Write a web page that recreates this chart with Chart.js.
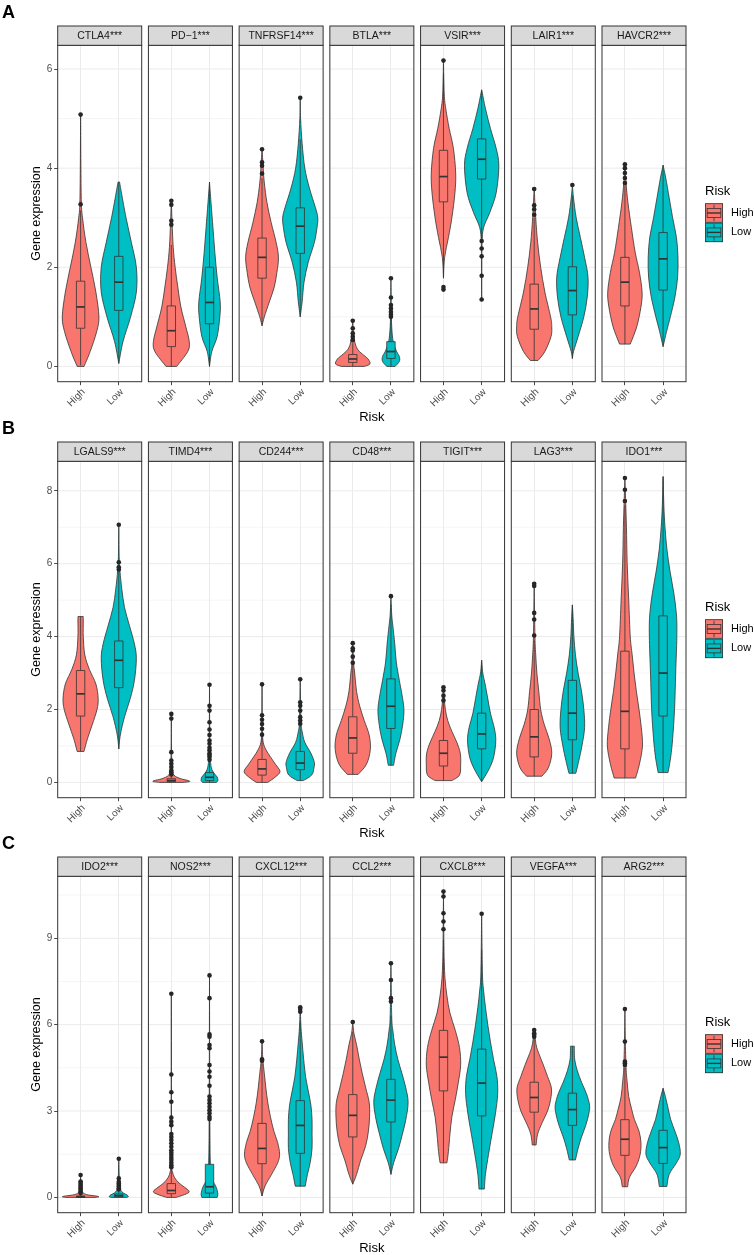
<!DOCTYPE html>
<html>
<head>
<meta charset="utf-8">
<script src="https://cdn.jsdelivr.net/npm/chart.js@4.4.1/dist/chart.umd.min.js"></script>
<style>
  html, body { margin: 0; padding: 0; background: #fff; }
  #page { position: relative; width: 754px; height: 1255px; overflow: hidden; }
  .panel { position: absolute; left: 0; width: 754px; height: 440px; }
</style>
</head>
<body>
<div id="page">
  <div class="panel" style="top:0px"><canvas id="chartA"></canvas></div>
  <div class="panel" style="top:415.7px"><canvas id="chartB"></canvas></div>
  <div class="panel" style="top:831.4px"><canvas id="chartC"></canvas></div>
</div>
<script>
// ---- data ----
const groups = ["High", "Low"];
const groupColors = ["#F8766D", "#00BFC4"];

// box stats: [lower whisker, q1, median, q3, upper whisker]
// violin profiles: [value, half width in category units]

// Panel A
const genesA = ["CTLA4***", "PD\u22121***", "TNFRSF14***", "BTLA***", "VSIR***", "LAIR1***", "HAVCR2***"];
const ticksA = [0, 2, 4, 6];
const boxHighA = [
  [0.02, 0.77, 1.2, 1.72, 3.15],
  [0, 0.40, 0.72, 1.22, 2.45],
  [0.82, 1.78, 2.2, 2.59, 3.8],
  [0, 0.08, 0.15, 0.24, 0.47],
  [1.78, 3.32, 3.83, 4.36, 5.9],
  [0.12, 0.75, 1.16, 1.66, 3.0],
  [0.45, 1.22, 1.7, 2.2, 3.65]
];
const boxLowA = [
  [0.06, 1.13, 1.70, 2.22, 3.72],
  [0, 0.86, 1.29, 2.0, 3.72],
  [1.0, 2.28, 2.83, 3.2, 4.58],
  [0, 0.16, 0.3, 0.5, 0.98],
  [2.57, 3.78, 4.18, 4.59, 5.58],
  [0.16, 1.04, 1.53, 2.01, 3.45],
  [0.4, 1.54, 2.17, 2.7, 4.06]
];
const outHighA = [
  [3.27, 5.08],
  [2.86, 2.94, 3.26, 3.34],
  [3.89, 4.05, 4.12, 4.38],
  [0.53, 0.6, 0.67, 0.77, 0.92],
  [1.55, 1.6, 6.17],
  [3.06, 3.17, 3.25, 3.58],
  [3.7, 3.8, 3.9, 4.0, 4.08]
];
const outLowA = [
  [],
  [],
  [5.42],
  [1.0, 1.04, 1.1, 1.17, 1.24, 1.39, 1.78],
  [1.35, 1.83, 2.22, 2.38, 2.53],
  [3.66],
  []
];
const violinHighA = [
  [[0, 0.09], [0.3, 0.25], [0.7, 0.42], [1.0, 0.48], [1.5, 0.40], [2.0, 0.27], [2.5, 0.14], [3.0, 0.05], [3.3, 0.02], [4.0, 0.008], [5.08, 0]],
  [[0, 0.14], [0.3, 0.43], [0.5, 0.47], [0.8, 0.38], [1.2, 0.25], [1.6, 0.17], [2.0, 0.10], [2.4, 0.05], [2.9, 0.02], [3.35, 0]],
  [[0.82, 0], [1.0, 0.06], [1.3, 0.19], [1.6, 0.32], [1.9, 0.39], [2.2, 0.43], [2.5, 0.37], [2.9, 0.24], [3.3, 0.13], [3.7, 0.06], [4.0, 0.03], [4.4, 0]],
  [[0, 0.3], [0.05, 0.45], [0.15, 0.4], [0.25, 0.25], [0.35, 0.12], [0.5, 0.05], [0.7, 0.02], [0.93, 0]],
  [[1.78, 0], [2.2, 0.03], [2.6, 0.13], [3.0, 0.22], [3.5, 0.30], [3.9, 0.32], [4.4, 0.26], [4.8, 0.15], [5.2, 0.06], [5.5, 0.02], [6.17, 0]],
  [[0.12, 0.1], [0.3, 0.28], [0.6, 0.44], [0.8, 0.46], [1.0, 0.43], [1.5, 0.28], [2.0, 0.17], [2.5, 0.09], [3.0, 0.04], [3.6, 0]],
  [[0.45, 0.14], [0.8, 0.31], [1.2, 0.42], [1.5, 0.45], [1.9, 0.38], [2.3, 0.27], [2.8, 0.17], [3.3, 0.08], [3.7, 0.03], [4.08, 0]]
];
const violinLowA = [
  [[0.06, 0], [0.5, 0.11], [1.0, 0.31], [1.5, 0.46], [2.0, 0.46], [2.5, 0.33], [3.0, 0.19], [3.5, 0.07], [3.72, 0.02]],
  [[0, 0], [0.3, 0.06], [0.6, 0.2], [1.0, 0.27], [1.3, 0.28], [1.8, 0.2], [2.3, 0.14], [2.8, 0.09], [3.3, 0.04], [3.72, 0]],
  [[1.0, 0], [1.3, 0.05], [1.7, 0.1], [2.1, 0.21], [2.5, 0.37], [2.8, 0.44], [3.0, 0.46], [3.2, 0.4], [3.6, 0.24], [4.0, 0.12], [4.5, 0.05], [5.0, 0.01], [5.42, 0]],
  [[0, 0.11], [0.1, 0.22], [0.2, 0.22], [0.3, 0.15], [0.5, 0.06], [0.8, 0.02], [1.2, 0.008], [1.78, 0]],
  [[1.35, 0], [2.0, 0.005], [2.5, 0.01], [2.8, 0.05], [3.1, 0.21], [3.5, 0.38], [4.05, 0.45], [4.4, 0.38], [4.8, 0.23], [5.2, 0.1], [5.58, 0]],
  [[0.16, 0], [0.3, 0.03], [0.6, 0.15], [1.0, 0.3], [1.4, 0.39], [1.8, 0.41], [2.2, 0.32], [2.6, 0.21], [3.0, 0.1], [3.4, 0.03], [3.66, 0]],
  [[0.4, 0], [0.7, 0.09], [1.0, 0.19], [1.4, 0.31], [1.8, 0.38], [2.2, 0.39], [2.6, 0.35], [3.0, 0.25], [3.4, 0.16], [3.8, 0.07], [4.06, 0]]
];

// Panel B
const genesB = ["LGALS9***", "TIMD4***", "CD244***", "CD48***", "TIGIT***", "LAG3***", "IDO1***"];
const ticksB = [0, 2, 4, 6, 8];
const boxHighB = [
  [0.85, 1.82, 2.43, 3.07, 4.55],
  [0, 0.02, 0.05, 0.1, 0.2],
  [0, 0.2, 0.37, 0.63, 1.25],
  [0.22, 0.8, 1.22, 1.8, 3.25],
  [0.05, 0.45, 0.8, 1.15, 2.2],
  [0.17, 0.7, 1.25, 2.0, 3.9],
  [0.12, 0.92, 1.95, 3.6, 7.6]
];
const boxLowB = [
  [0.92, 2.6, 3.35, 3.88, 5.8],
  [0, 0.05, 0.14, 0.27, 0.6],
  [0.05, 0.35, 0.53, 0.85, 1.6],
  [0.47, 1.48, 2.09, 2.84, 4.88],
  [0.02, 0.92, 1.33, 1.9, 3.35],
  [0.25, 1.17, 1.9, 2.8, 4.87],
  [0.27, 1.82, 3.0, 4.57, 8.39]
];
const outHighB = [
  [],
  [0.22, 0.28, 0.33, 0.42, 0.51, 0.6, 0.83, 1.75, 1.88],
  [1.31, 1.47, 1.6, 1.72, 1.84, 2.69],
  [3.28, 3.45, 3.62, 3.68, 3.82],
  [2.25, 2.38, 2.52, 2.61],
  [4.03, 4.47, 4.65, 5.39, 5.45],
  [7.72, 8.03, 8.35]
];
const outLowB = [
  [5.84, 5.9, 6.04, 7.07],
  [0.62, 0.7, 0.75, 0.8, 0.88, 0.95, 1.06, 1.15, 1.3, 1.45, 1.65, 1.97, 2.1, 2.68],
  [1.61, 1.7, 1.79, 1.97, 2.1, 2.2, 2.83],
  [5.11],
  [],
  [],
  []
];
const violinHighB = [
  [[0.85, 0.09], [1.2, 0.18], [1.6, 0.31], [2.0, 0.43], [2.3, 0.46], [2.7, 0.4], [3.1, 0.23], [3.5, 0.11], [4.0, 0.07], [4.4, 0.07], [4.55, 0.07]],
  [[0, 0.3], [0.02, 0.47], [0.05, 0.45], [0.1, 0.25], [0.2, 0.07], [0.4, 0.02], [1.0, 0.005], [1.88, 0]],
  [[0, 0.15], [0.15, 0.35], [0.3, 0.47], [0.5, 0.35], [0.7, 0.22], [0.9, 0.1], [1.1, 0.03], [1.4, 0.01], [2.0, 0.004], [2.69, 0]],
  [[0.22, 0.14], [0.5, 0.36], [0.9, 0.46], [1.3, 0.43], [1.7, 0.3], [2.1, 0.18], [2.5, 0.1], [3.0, 0.05], [3.3, 0.02], [3.82, 0]],
  [[0.05, 0.22], [0.2, 0.42], [0.5, 0.45], [0.8, 0.44], [1.1, 0.35], [1.4, 0.22], [1.7, 0.11], [2.0, 0.05], [2.3, 0.02], [2.61, 0]],
  [[0.17, 0.2], [0.4, 0.37], [0.8, 0.46], [1.2, 0.39], [1.6, 0.26], [2.0, 0.17], [2.5, 0.12], [3.0, 0.07], [3.5, 0.04], [4.0, 0.02], [5.45, 0]],
  [[0.12, 0.28], [0.5, 0.38], [1.0, 0.46], [1.5, 0.43], [2.0, 0.37], [2.5, 0.3], [3.0, 0.24], [3.5, 0.19], [4.0, 0.14], [5.0, 0.1], [6.0, 0.06], [7.0, 0.04], [7.7, 0.02], [8.35, 0]]
];
const violinLowB = [
  [[0.92, 0], [1.3, 0.04], [1.8, 0.15], [2.3, 0.3], [2.8, 0.41], [3.4, 0.46], [3.8, 0.41], [4.3, 0.28], [4.8, 0.15], [5.3, 0.08], [5.8, 0.03], [6.2, 0.01], [7.07, 0]],
  [[0, 0.18], [0.05, 0.22], [0.15, 0.2], [0.25, 0.12], [0.4, 0.05], [0.7, 0.02], [1.5, 0.005], [2.68, 0]],
  [[0.05, 0.08], [0.2, 0.3], [0.4, 0.36], [0.55, 0.37], [0.8, 0.28], [1.1, 0.12], [1.4, 0.05], [1.7, 0.02], [2.83, 0]],
  [[0.47, 0.07], [0.8, 0.13], [1.2, 0.24], [1.6, 0.31], [2.0, 0.34], [2.4, 0.29], [2.8, 0.22], [3.3, 0.14], [3.8, 0.1], [4.3, 0.05], [4.6, 0.02], [5.11, 0]],
  [[0.02, 0], [0.3, 0.16], [0.6, 0.29], [0.9, 0.35], [1.2, 0.37], [1.5, 0.33], [1.9, 0.23], [2.3, 0.16], [2.7, 0.09], [3.0, 0.03], [3.35, 0]],
  [[0.25, 0.09], [0.6, 0.17], [1.0, 0.25], [1.5, 0.32], [2.0, 0.3], [2.5, 0.24], [3.0, 0.15], [3.5, 0.08], [4.0, 0.04], [4.5, 0.02], [4.87, 0]],
  [[0.27, 0.13], [0.7, 0.2], [1.2, 0.25], [2.0, 0.3], [3.0, 0.33], [4.0, 0.36], [4.6, 0.35], [5.2, 0.28], [5.8, 0.18], [6.4, 0.1], [7.0, 0.05], [7.6, 0.02], [8.39, 0]]
];

// Panel C
const genesC = ["IDO2***", "NOS2***", "CXCL12***", "CCL2***", "CXCL8***", "VEGFA***", "ARG2***"];
const ticksC = [0, 3, 6, 9];
const boxHighC = [
  [0, 0.0, 0.02, 0.05, 0.12],
  [0, 0.13, 0.24, 0.48, 1.0],
  [0.05, 1.17, 1.7, 2.57, 4.65],
  [0.46, 2.1, 2.85, 3.57, 5.75],
  [1.2, 3.7, 4.87, 5.8, 8.95],
  [1.82, 2.96, 3.47, 4.0, 5.55],
  [0.37, 1.46, 2.02, 2.7, 4.5]
];
const boxLowC = [
  [0, 0.02, 0.06, 0.12, 0.25],
  [0, 0.15, 0.37, 1.15, 2.65],
  [0.39, 1.53, 2.5, 3.36, 6.1],
  [0.8, 2.62, 3.38, 4.1, 6.3],
  [0.29, 2.83, 3.97, 5.15, 8.6],
  [1.3, 2.5, 3.05, 3.62, 5.25],
  [0.38, 1.18, 1.73, 2.33, 3.79]
];
const outHighC = [
  [0.15, 0.2, 0.26, 0.32, 0.38, 0.44, 0.5, 0.55, 0.78],
  [1.05, 1.12, 1.2, 1.3, 1.38, 1.47, 1.55, 1.64, 1.76, 1.88, 1.99, 2.1, 2.2, 2.51, 2.63, 2.77, 3.32, 3.65, 4.27, 7.07],
  [4.75, 4.8, 5.42],
  [6.09],
  [9.31, 9.58, 9.87, 10.45, 10.62],
  [5.58, 5.65, 5.7, 5.81],
  [4.6, 4.66, 4.72, 5.41, 6.54]
];
const outLowC = [
  [0.28, 0.32, 0.38, 0.43, 0.48, 0.54, 0.66, 1.34],
  [2.72, 2.8, 2.92, 3.03, 3.15, 3.27, 3.38, 3.5, 3.88, 4.19, 4.37, 4.6, 5.18, 5.29, 5.58, 5.66, 6.92, 7.71],
  [6.45, 6.54, 6.6],
  [6.8, 6.92, 7.55, 8.13],
  [9.85],
  [],
  []
];
const violinHighC = [
  [[0, 0.4], [0.02, 0.48], [0.05, 0.4], [0.1, 0.15], [0.2, 0.04], [0.4, 0.01], [0.78, 0]],
  [[0, 0.12], [0.1, 0.35], [0.2, 0.47], [0.35, 0.35], [0.5, 0.2], [0.7, 0.08], [0.9, 0.03], [1.2, 0.01], [3.0, 0.004], [7.07, 0]],
  [[0.05, 0], [0.4, 0.08], [0.8, 0.25], [1.2, 0.41], [1.5, 0.46], [1.9, 0.41], [2.3, 0.31], [2.8, 0.22], [3.3, 0.15], [3.8, 0.1], [4.3, 0.06], [4.8, 0.02], [5.42, 0]],
  [[0.46, 0], [0.8, 0.1], [1.3, 0.21], [1.8, 0.34], [2.3, 0.41], [2.8, 0.44], [3.3, 0.43], [3.8, 0.34], [4.3, 0.25], [4.8, 0.17], [5.3, 0.1], [5.7, 0.03], [6.09, 0]],
  [[1.2, 0.09], [1.6, 0.13], [2.2, 0.17], [2.8, 0.22], [3.4, 0.31], [4.0, 0.39], [4.6, 0.45], [5.2, 0.42], [5.8, 0.31], [6.4, 0.17], [7.0, 0.09], [7.6, 0.04], [8.2, 0.02], [9.0, 0.01], [10.62, 0]],
  [[1.82, 0.05], [2.2, 0.09], [2.6, 0.21], [3.0, 0.35], [3.4, 0.43], [3.8, 0.45], [4.2, 0.35], [4.6, 0.24], [5.0, 0.12], [5.3, 0.05], [5.81, 0]],
  [[0.37, 0.07], [0.7, 0.12], [1.1, 0.3], [1.5, 0.4], [1.9, 0.42], [2.3, 0.37], [2.7, 0.25], [3.1, 0.17], [3.5, 0.1], [4.0, 0.06], [4.5, 0.03], [5.5, 0.01], [6.54, 0]]
];
const violinLowC = [
  [[0, 0.2], [0.02, 0.25], [0.08, 0.22], [0.15, 0.12], [0.25, 0.05], [0.4, 0.02], [1.34, 0]],
  [[0, 0.2], [0.1, 0.22], [0.25, 0.2], [0.4, 0.16], [0.6, 0.08], [0.9, 0.04], [1.3, 0.02], [3.0, 0.008], [7.71, 0]],
  [[0.39, 0.13], [0.8, 0.19], [1.2, 0.26], [1.7, 0.31], [2.2, 0.31], [2.7, 0.31], [3.2, 0.28], [3.7, 0.21], [4.2, 0.14], [4.8, 0.09], [5.4, 0.05], [5.9, 0.02], [6.6, 0]],
  [[0.8, 0], [1.2, 0.07], [1.7, 0.2], [2.2, 0.3], [2.7, 0.39], [3.3, 0.45], [3.8, 0.39], [4.3, 0.29], [4.8, 0.18], [5.3, 0.1], [5.8, 0.05], [6.3, 0.02], [8.13, 0]],
  [[0.29, 0.07], [0.8, 0.1], [1.5, 0.18], [2.2, 0.27], [2.9, 0.36], [3.6, 0.42], [4.2, 0.4], [4.8, 0.31], [5.4, 0.23], [6.0, 0.16], [6.6, 0.1], [7.2, 0.05], [7.8, 0.02], [9.85, 0]],
  [[1.3, 0.08], [1.7, 0.15], [2.1, 0.24], [2.5, 0.35], [2.9, 0.43], [3.2, 0.45], [3.6, 0.37], [4.0, 0.24], [4.4, 0.13], [4.8, 0.06], [5.25, 0.05]],
  [[0.38, 0.1], [0.8, 0.16], [1.2, 0.35], [1.5, 0.45], [1.9, 0.41], [2.3, 0.31], [2.7, 0.2], [3.1, 0.13], [3.5, 0.06], [3.79, 0]]
];

// ---- layout ----
const FONT = "'Liberation Sans', Arial, Helvetica, sans-serif";
Chart.defaults.font.family = FONT;

const FACET_W = 2.2;          // discrete axis 0.4..2.6 per facet
const PITCH = 2.376;          // facet width + gap, in category units
const CAT_OFFSET = [0.6, 1.6];
const STRIP_H = 19.3;
const INK = "#333333";

// catmull-rom through the profile points (passes through each one)
function smoothSide(ctx, pts) {
  ctx.lineTo(pts[0][0], pts[0][1]);
  for (let i = 0; i < pts.length - 1; i++) {
    const p0 = pts[Math.max(i - 1, 0)], p1 = pts[i], p2 = pts[i + 1], p3 = pts[Math.min(i + 2, pts.length - 1)];
    const c1x = p1[0] + (p2[0] - p0[0]) / 6, c1y = p1[1] + (p2[1] - p0[1]) / 6;
    const c2x = p2[0] - (p3[0] - p1[0]) / 6, c2y = p2[1] - (p3[1] - p1[1]) / 6;
    ctx.bezierCurveTo(c1x, c1y, c2x, c2y, p2[0], p2[1]);
  }
}

function drawViolin(ctx, xs, ys, cx, prof, color) {
  const right = prof.map(([v, hw]) => [xs.getPixelForValue(cx + hw), ys.getPixelForValue(v)]);
  const left = prof.map(([v, hw]) => [xs.getPixelForValue(cx - hw), ys.getPixelForValue(v)]).reverse();
  ctx.beginPath();
  ctx.moveTo(left[left.length - 1][0], left[left.length - 1][1]);
  smoothSide(ctx, right);
  smoothSide(ctx, left);
  ctx.closePath();
  ctx.fillStyle = color;
  ctx.fill();
  ctx.lineWidth = 0.8;
  ctx.lineJoin = "round";
  ctx.strokeStyle = INK;
  ctx.stroke();
}

function drawBox(ctx, xs, ys, cx, b, color) {
  const [lo, q1, med, q3, hi] = b.map(v => ys.getPixelForValue(v));
  const px = xs.getPixelForValue(cx);
  const l = xs.getPixelForValue(cx - 0.11), r = xs.getPixelForValue(cx + 0.11);
  ctx.strokeStyle = INK;
  ctx.lineWidth = 0.8;
  ctx.beginPath();
  ctx.moveTo(px, lo); ctx.lineTo(px, q1);
  ctx.moveTo(px, q3); ctx.lineTo(px, hi);
  ctx.stroke();
  ctx.fillStyle = color;
  ctx.fillRect(l, q3, r - l, q1 - q3);
  ctx.strokeRect(l, q3, r - l, q1 - q3);
  ctx.lineWidth = 1.7;
  ctx.beginPath();
  ctx.moveTo(l, med); ctx.lineTo(r, med);
  ctx.stroke();
}

function makePanel(canvasId, letter, genes, ticks, boxes, violins, outliers) {
  const xTicks = [];
  genes.forEach((g, f) => CAT_OFFSET.forEach(o => xTicks.push(f * PITCH + o)));

  // y range from data with ggplot's 5% expansion
  let lo = Infinity, hi = -Infinity;
  [0, 1].forEach(g => {
    boxes[g].forEach(b => { lo = Math.min(lo, b[0]); hi = Math.max(hi, b[4]); });
    violins[g].forEach(p => p.forEach(([v]) => { lo = Math.min(lo, v); hi = Math.max(hi, v); }));
    outliers[g].forEach(o => o.forEach(v => { lo = Math.min(lo, v); hi = Math.max(hi, v); }));
  });
  const pad = (hi - lo) * 0.05;

  const panelPlugin = {
    id: "facets",
    beforeDatasetsDraw(chart) {
      const { ctx, scales: { x, y } } = chart;
      ctx.save();
      const step = ticks[1] - ticks[0];
      genes.forEach((g, f) => {
        const L = x.getPixelForValue(f * PITCH), R = x.getPixelForValue(f * PITCH + FACET_W);
        ctx.strokeStyle = "#EBEBEB";
        // minor grid
        ctx.lineWidth = 0.5;
        for (let v = ticks[0] - step / 2; v <= y.max; v += step) {
          if (v < y.min) continue;
          const py = y.getPixelForValue(v);
          ctx.beginPath(); ctx.moveTo(L, py); ctx.lineTo(R, py); ctx.stroke();
        }
        // major grid
        ctx.lineWidth = 1;
        ticks.forEach(v => {
          const py = y.getPixelForValue(v);
          ctx.beginPath(); ctx.moveTo(L, py); ctx.lineTo(R, py); ctx.stroke();
        });
        [0, 1].forEach(gi => {
          const cx = f * PITCH + CAT_OFFSET[gi];
          drawViolin(ctx, x, y, cx, violins[gi][f], groupColors[gi]);
          drawBox(ctx, x, y, cx, boxes[gi][f], groupColors[gi]);
        });
      });
      ctx.restore();
    },
    afterDraw(chart) {
      const { ctx, chartArea: a, scales: { x } } = chart;
      ctx.save();
      genes.forEach((g, f) => {
        const L = x.getPixelForValue(f * PITCH), R = x.getPixelForValue(f * PITCH + FACET_W);
        ctx.lineWidth = 1;
        ctx.strokeStyle = INK;
        ctx.strokeRect(L, a.top, R - L, a.bottom - a.top);
        ctx.fillStyle = "#D9D9D9";
        ctx.fillRect(L, a.top - STRIP_H, R - L, STRIP_H);
        ctx.strokeRect(L, a.top - STRIP_H, R - L, STRIP_H);
        ctx.fillStyle = "#1A1A1A";
        ctx.font = "10.5px " + FONT;
        ctx.textAlign = "center";
        ctx.textBaseline = "middle";
        ctx.fillText(g, (L + R) / 2, a.top - STRIP_H / 2 + 0.5);
      });
      // panel letter
      ctx.fillStyle = "#000";
      ctx.font = "bold 18px " + FONT;
      ctx.textAlign = "left";
      ctx.textBaseline = "middle";
      ctx.fillText(letter, 2, a.top - 32);
      // legend
      const lx = a.right + 19;
      ctx.font = "13px " + FONT;
      ctx.fillText("Risk", lx, a.top + 145.7);
      groups.forEach((name, i) => {
        const kw = 18, kh = 19.4;
        const ky = a.top + 158 + i * kh;
        ctx.fillStyle = groupColors[i];
        ctx.fillRect(lx, ky, kw, kh);
        ctx.strokeStyle = INK;
        ctx.lineWidth = 0.8;
        ctx.strokeRect(lx + 0.4, ky + 0.4, kw - 0.8, kh - 0.8);
        ctx.strokeRect(lx + kw * 0.12, ky + kh * 0.27, kw * 0.76, kh * 0.46);
        ctx.beginPath();
        ctx.moveTo(lx + kw / 2, ky + kh * 0.08); ctx.lineTo(lx + kw / 2, ky + kh * 0.27);
        ctx.moveTo(lx + kw / 2, ky + kh * 0.73); ctx.lineTo(lx + kw / 2, ky + kh * 0.92);
        ctx.stroke();
        ctx.lineWidth = 1.4;
        ctx.beginPath();
        ctx.moveTo(lx + kw * 0.12, ky + kh / 2); ctx.lineTo(lx + kw * 0.88, ky + kh / 2);
        ctx.stroke();
        ctx.fillStyle = "#000";
        ctx.font = "11px " + FONT;
        ctx.fillText(name, lx + 26, ky + kh / 2);
      });
      ctx.restore();
    }
  };

  const datasets = [0, 1].map(gi => ({
    type: "scatter",
    label: groups[gi],
    data: outliers[gi].flatMap((vals, f) => vals.map(v => ({ x: f * PITCH + CAT_OFFSET[gi], y: v }))),
    pointRadius: 2.3,
    pointHoverRadius: 2.3,
    pointBackgroundColor: "#262626",
    pointBorderWidth: 0
  }));

  return new Chart(document.getElementById(canvasId), {
    type: "scatter",
    data: { datasets },
    options: {
      responsive: true,
      maintainAspectRatio: false,
      animation: false,
      events: [],
      layout: { padding: { top: 45.3, right: 68, bottom: 14.7, left: 0 } },
      plugins: { legend: { display: false }, tooltip: { enabled: false } },
      scales: {
        x: {
          type: "linear",
          min: 0,
          max: (genes.length - 1) * PITCH + FACET_W,
          afterBuildTicks: s => { s.ticks = xTicks.map(v => ({ value: v })); },
          afterFit: s => { s.height = 43.6; },
          ticks: {
            autoSkip: false, maxRotation: 45, minRotation: 45, padding: 1, labelOffset: 3,
            color: "#4D4D4D", font: { size: 10 },
            callback: (v, i) => groups[i % 2]
          },
          grid: { color: "#EBEBEB", lineWidth: 1, drawTicks: true, tickLength: 3.5, tickColor: INK, tickWidth: 0.9 },
          border: { display: false },
          title: { display: true, text: "Risk", color: "#000", font: { size: 13 }, padding: { top: 0, bottom: 0 } }
        },
        y: {
          min: lo - pad,
          max: hi + pad,
          afterBuildTicks: s => { s.ticks = ticks.map(v => ({ value: v })); },
          afterFit: s => { s.width = 57.7; },
          ticks: { color: "#4D4D4D", font: { size: 10 }, padding: 2, callback: v => String(v) },
          grid: { drawOnChartArea: false, drawTicks: true, tickLength: 3.5, tickColor: INK, tickWidth: 0.9 },
          border: { display: false },
          title: { display: true, text: "Gene expression", color: "#000", font: { size: 12.5 }, padding: { top: 29.2, bottom: 0 } }
        }
      }
    },
    plugins: [panelPlugin]
  });
}

makePanel("chartA", "A", genesA, ticksA, [boxHighA, boxLowA], [violinHighA, violinLowA], [outHighA, outLowA]);
makePanel("chartB", "B", genesB, ticksB, [boxHighB, boxLowB], [violinHighB, violinLowB], [outHighB, outLowB]);
makePanel("chartC", "C", genesC, ticksC, [boxHighC, boxLowC], [violinHighC, violinLowC], [outHighC, outLowC]);
</script>
</body>
</html>
